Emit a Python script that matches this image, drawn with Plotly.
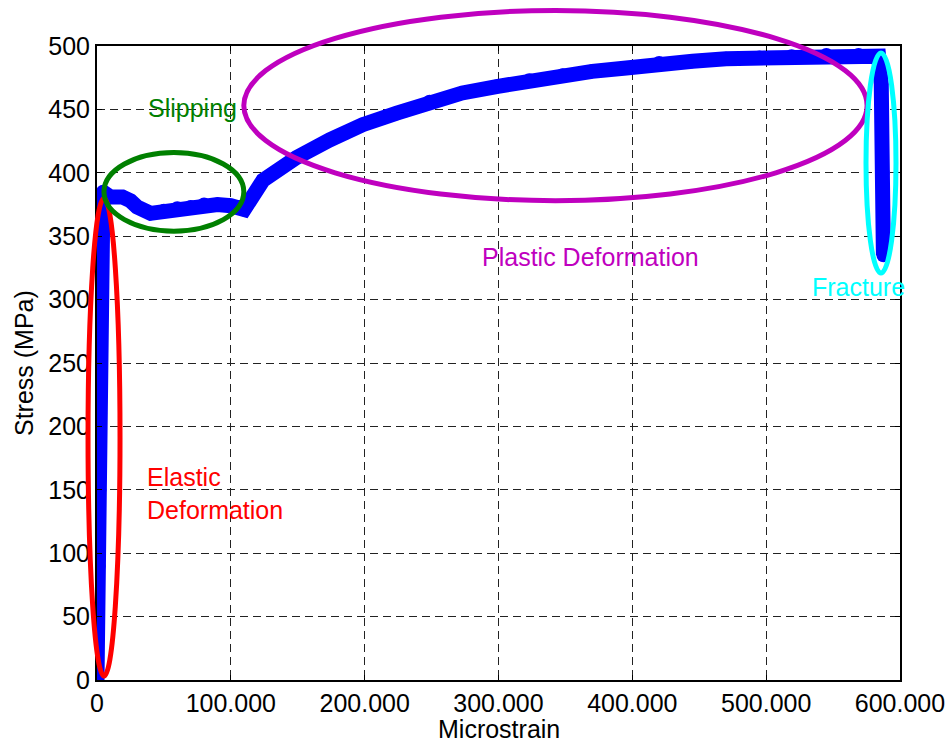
import plotly.graph_objects as go

# ---- data ----
strain = [0, 600, 1200, 1800, 2300, 2800, 3200, 3600, 4000, 4500,
          10000, 19000, 25000, 30000, 40000, 50000, 60000, 70000, 80000, 90000, 100000, 106000, 110000,
          124000, 149000, 174000, 198500, 224000, 248500, 273000, 298500, 323000, 348000,
          370000, 395500, 420000, 445000, 470000, 495000, 519000, 545000, 569000, 584000,
          586000, 586500, 587000, 587300, 587600]
stress = [0, 40, 90, 150, 210, 260, 300, 335, 365, 385,
          381, 381, 378, 373, 368, 370, 372, 373, 375, 375, 374, 373, 371,
          394, 412, 426, 438, 447, 456, 463, 468, 473, 477,
          480, 482.6, 486.6, 488, 490, 491, 492, 493, 493, 492,
          470, 440, 400, 360, 335]

x_tickvals = [0, 100000, 200000, 300000, 400000, 500000, 600000]
x_ticktext = ["0", "100.000", "200.000", "300.000", "400.000", "500.000", "600.000"]
y_tickvals = [0, 50, 100, 150, 200, 250, 300, 350, 400, 450, 500]

# region ellipses (data units): name, x0, x1, y0, y1, colour
regions = [
    ("Elastic", -6700, 17200, 3, 380, "#ff0000"),
    ("Slipping", 5200, 109700, 354, 416, "#008000"),
    ("Plastic", 109700, 575400, 378, 528, "#bf00bf"),
    ("Fracture", 574600, 597000, 321, 494.5, "#00ffff"),
]
# labels: text, x, y, colour, xanchor
labels = [
    ("Slipping", 71300, 451, "#008000", "center"),
    ("Plastic Deformation", 368700, 333.6, "#bf00bf", "center"),
    ("Elastic<br>Deformation", 35800, 146.7, "#ff0000", "left"),
    ("Fracture", 568700, 310, "#00ffff", "center"),
]

XMIN, XMAX = 0, 600000
YMIN, YMAX = 0, 500


def fx(v):
    return (v - XMIN) / (XMAX - XMIN)


def fy(v):
    return (v - YMIN) / (YMAX - YMIN)


FONT = "Liberation Sans, Arial, sans-serif"

fig = go.Figure()
fig.add_trace(go.Scatter(
    x=strain, y=stress, mode="lines+markers",
    line=dict(color="#0000ff", width=15),
    marker=dict(color="#0000ff", size=14),
    showlegend=False, hoverinfo="skip",
))

shapes = []
for name, x0, x1, y0, y1, col in regions:
    shapes.append(dict(type="circle", xref="x domain", yref="y domain",
                       x0=fx(x0), x1=fx(x1), y0=fy(y0), y1=fy(y1),
                       line=dict(color=col, width=5), layer="above"))

annotations = []
for text, x, y, col, anchor in labels:
    annotations.append(dict(text=text, x=x, y=y, xref="x", yref="y",
                            showarrow=False, xanchor=anchor, yanchor="middle",
                            align="left", font=dict(color=col, size=25, family=FONT)))
annotations.append(dict(text="Microstrain", xref="paper", yref="paper", x=0.5006, y=-0.0772,
                        showarrow=False, xanchor="center", yanchor="middle",
                        font=dict(color="black", size=25, family=FONT)))
annotations.append(dict(text="Stress (MPa)", xref="paper", yref="paper", x=-0.0909, y=0.5,
                        showarrow=False, xanchor="center", yanchor="middle", textangle=-90,
                        font=dict(color="black", size=25, family=FONT)))

axis_common = dict(showline=True, mirror="ticks", linecolor="black", linewidth=2,
                   showgrid=True, gridcolor="#222222", gridwidth=1, griddash="8px,5px",
                   zeroline=False, ticks="inside", ticklen=5, tickcolor="black",
                   ticklabeloverflow="allow",
                   tickfont=dict(size=25, color="black", family=FONT), automargin=False)

fig.update_layout(
    width=952, height=743,
    margin=dict(l=97, r=52, t=46, b=63),
    paper_bgcolor="white", plot_bgcolor="white",
    shapes=shapes, annotations=annotations,
    xaxis=dict(range=[XMIN, XMAX], tickvals=x_tickvals, ticktext=x_ticktext, **axis_common),
    yaxis=dict(range=[YMIN, YMAX], tickvals=y_tickvals, **axis_common),
)

# remove the default page margin so the 952x743 figure fills the window exactly
post = ("document.body.style.margin='0';document.body.style.padding='0';"
        "document.body.style.overflow='hidden';"
        "document.documentElement.style.overflow='hidden';")
fig.write_html("out.html", post_script=post, config={"displayModeBar": False})
